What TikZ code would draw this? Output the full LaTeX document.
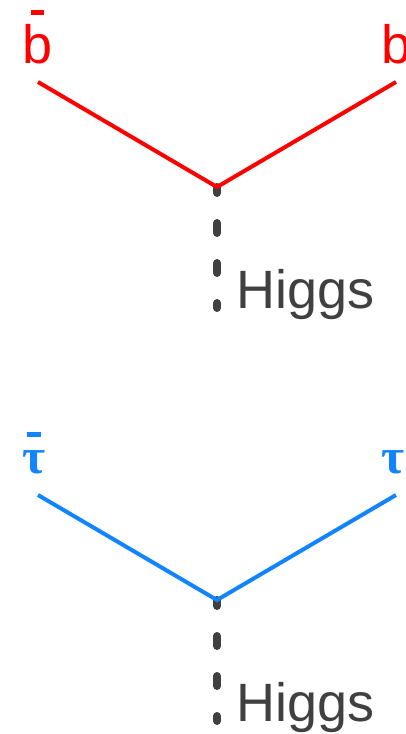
\documentclass[tikz,border=0pt]{standalone}
\usepackage{fontspec}
\setmainfont{Liberation Sans}
\newfontfamily\greekfont{Liberation Serif}
\usetikzlibrary{positioning}
\definecolor{quarkred}{RGB}{255,0,0}
\definecolor{leptonblue}{RGB}{18,132,255}
\definecolor{higgsgray}{RGB}{64,64,64}
% bar above a particle symbol: #1 lift, #2 bar width, #3 symbol
\newcommand{\antibar}[3]{\ooalign{\hidewidth\raisebox{#1}{\rule{#2}{5pt}}\hidewidth\cr#3\cr}}

\begin{document}
\begin{tikzpicture}[x=1pt,y=1pt,
    fermion/.style={line width=4pt},
    scalar/.style={higgsgray, line width=8pt, line cap=round, dash pattern=on 10pt off 30pt, dash phase=4pt},
    particle/.style={font=\fontsize{54}{54}\selectfont, inner sep=0pt, anchor=base west},
    higgslabel/.style={higgsgray, font=\fontsize{54}{54}\selectfont, inner sep=0pt, anchor=base west}]
    \useasboundingbox (0,0) rectangle (406,-734);
    % one vertex per decay channel
    \foreach \i/\y/\lb/\col/\anti/\part in {1/0/63/quarkred/{\antibar{48pt}{13pt}{b}}/b,
            2/-413/60/leptonblue/{\greekfont\bfseries\fontsize{50}{50}\selectfont\antibar{36pt}{14pt}{τ}}/{\greekfont\bfseries\fontsize{50}{50}\selectfont τ}} {
        \coordinate (v\i) at (217,\y-187);
        \coordinate (a\i) at (38,\y-82);
        \coordinate (f\i) at (396,\y-82);
        \coordinate (h\i) at (217,\y-308);
        \draw[scalar] (v\i) -- (h\i);
        \draw[fermion,\col] (a\i) -- (v\i) -- (f\i);
        \node[particle,\col] (abar\i) at (22,\y-\lb) {\anti};
        \node[particle,\col] (part\i) at (381,\y-\lb) {\part};
        \node[higgslabel] (higgs\i) at (236,\y-308) {Higgs};
    }
\end{tikzpicture}
\end{document}
